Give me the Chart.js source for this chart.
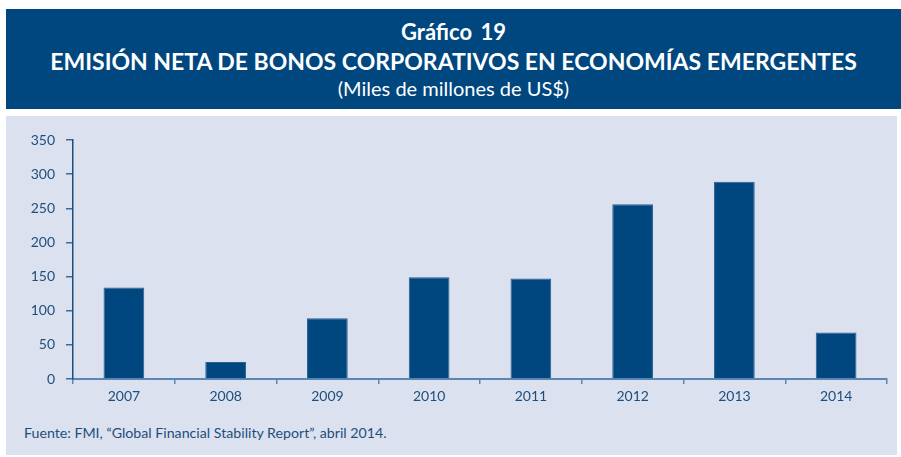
<!DOCTYPE html>
<html>
<head>
<meta charset="utf-8">
<script src="https://cdn.jsdelivr.net/npm/chart.js@4.4.1/dist/chart.umd.min.js"></script>
<style>
  body { margin: 0; background: #fff; width: 901px; height: 457px; position: relative; overflow: hidden; }
  #cabecera {
    position: absolute; left: 6px; top: 9px; width: 895px; height: 100px;
    background: #00467f; color: #fff; text-align: center;
    font-family: Lato, "Open Sans", sans-serif;
  }
  #cabecera div { position: absolute; left: 0; width: 100%; }
  #cabecera .num { top: 11px; font-size: 22px; font-weight: bold; line-height: 24px; word-spacing: 3px; }
  #cabecera .tit { top: 38px; font-size: 23px; font-weight: bold; line-height: 28px; }
  #cabecera .sub { top: 67px; font-size: 20px; line-height: 24px; }
  #panel { position: absolute; left: 6px; top: 116px; width: 891px; height: 339px; background: #dbe1ee; }
  #grafico { position: absolute; left: 0; top: 4px; }
  #fuente {
    position: absolute; left: 18px; top: 307px; color: #1e4e7e;
    font-family: Lato, "Open Sans", sans-serif; font-size: 14.2px; line-height: 20px;
  }
</style>
</head>
<body>
<div id="cabecera">
  <div class="num">Gráfico 19</div>
  <div class="tit">EMISIÓN NETA DE BONOS CORPORATIVOS EN ECONOMÍAS EMERGENTES</div>
  <div class="sub">(Miles de millones de US$)</div>
</div>
<div id="panel">
  <canvas id="grafico" width="891" height="290"></canvas>
  <div id="fuente">Fuente: FMI, “Global Financial Stability Report”, abril 2014.</div>
</div>
<script>
// Emisión neta, miles de millones de US$
const anios = ['2007', '2008', '2009', '2010', '2011', '2012', '2013', '2014'];
const emision = [134, 25, 89, 149, 147, 256, 289, 68];
const ticksY = [0, 50, 100, 150, 200, 250, 300, 350];

const azul = '#00467f';
const texto = '#1e4e7e';
const fuenteTicks = { family: 'Lato, "Open Sans", sans-serif', size: 14 };

document.addEventListener('DOMContentLoaded', () => {
  const ctx = document.getElementById('grafico');
  new Chart(ctx, {
    type: 'bar',
    data: {
      labels: anios,
      datasets: [{
        data: emision,
        backgroundColor: azul,
        borderColor: '#2a5f94',
        borderWidth: 1,
        barPercentage: 0.4,
        categoryPercentage: 1
      }]
    },
    options: {
      responsive: false,
      animation: false,
      layout: { padding: { top: 20, right: 10, left: 0, bottom: 0 } },
      plugins: { legend: { display: false }, tooltip: { enabled: false } },
      scales: {
        x: {
          offset: true,
          grid: { offset: true, drawOnChartArea: false, tickLength: 5, color: '#5b87b3', lineWidth: 1.5 },
          border: { color: '#5b87b3', width: 2 },
          ticks: { color: texto, font: fuenteTicks, padding: 4 },
          afterFit: s => { s.height = 31; }
        },
        y: {
          min: 0,
          max: 350,
          afterBuildTicks: s => { s.ticks = ticksY.map(v => ({ value: v })); },
          grid: { drawOnChartArea: false, tickLength: 7, color: '#3d6c9c', lineWidth: 1.5 },
          border: { color: '#1e4e7e', width: 1.5 },
          ticks: { color: texto, font: fuenteTicks, padding: 11 },
          afterFit: s => { s.width = 67; }
        }
      }
    }
  });
});
</script>
</body>
</html>
